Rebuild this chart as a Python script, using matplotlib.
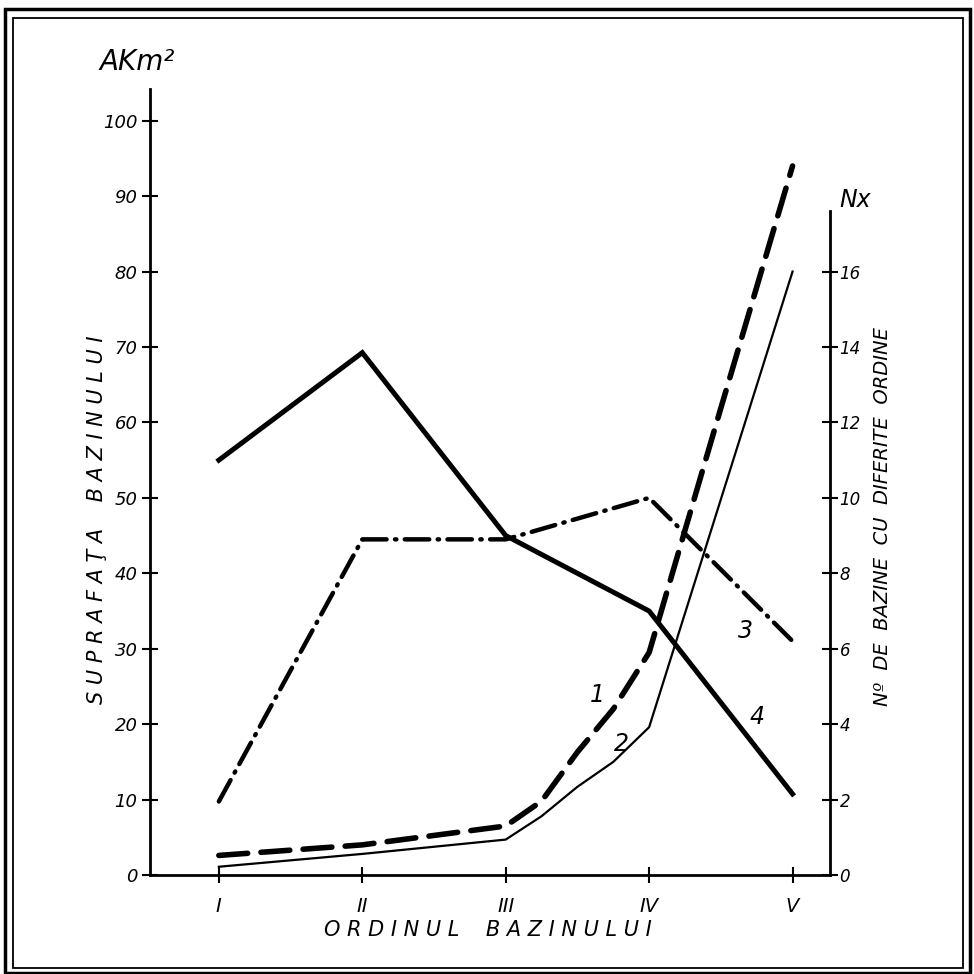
import matplotlib
matplotlib.use("Agg")
import matplotlib.pyplot as plt
from matplotlib.patches import Rectangle

# ordinul bazinului (I..V)
ordin = [1, 2, 3, 4, 5]
ordin_labels = ["I", "II", "III", "IV", "V"]

# curba 1 (A km2, linie intrerupta) - valori citite si intre ordine
x_curba1 = [1, 2, 3, 3.25, 3.5, 3.75, 4, 4.5, 5]
a_curba1 = [2.6, 4.0, 6.5, 9.8, 16.3, 22.0, 29.5, 61.9, 94.0]

# curba 2 (A km2, linie subtire)
x_curba2 = [1, 2, 3, 3.25, 3.5, 3.75, 4, 5]
a_curba2 = [1.1, 2.8, 4.7, 7.8, 11.7, 15.0, 19.6, 80.0]

# curba 3 (Nx, linie-punct) si curba 4 (Nx, linie groasa)
nx_curba3 = [1.95, 8.9, 8.9, 10.0, 6.2]
nx_curba4 = [11.0, 13.85, 9.0, 7.0, 2.15]

y_ticks = list(range(0, 101, 10))
nx_ticks = [0, 2, 4, 6, 8, 10, 12, 14, 16]

plt.rcParams["font.family"] = ["DejaVu Sans"]
plt.rcParams["font.style"] = "italic"

fig = plt.figure(figsize=(9.74, 9.74), dpi=100)
ax = fig.add_axes([0.154, 0.1016, 0.698, 0.807])
ax2 = ax.twinx()

ax.set_xlim(0.52, 5.26)
ax.set_ylim(0, 104.2)
ax2.set_ylim(0, 104.2 / 5)

ax.plot(x_curba1, a_curba1, color="black", lw=4, ls=(0, (5.2, 2.4)),
        dash_capstyle="round")
ax.plot(x_curba2, a_curba2, color="black", lw=1.6)
ax2.plot(ordin, nx_curba3, color="black", lw=3.2,
         ls=(0, (5.5, 1.9, 0.3, 1.9)), dash_capstyle="round")
ax2.plot(ordin, nx_curba4, color="black", lw=3.6, solid_joinstyle="miter")

# axe
for a in (ax, ax2):
    a.spines["top"].set_visible(False)
ax.spines["right"].set_visible(False)
ax2.spines["left"].set_visible(False)
ax2.spines["bottom"].set_visible(False)
ax.spines["left"].set_linewidth(2)
ax.spines["bottom"].set_linewidth(2)
ax2.spines["right"].set_linewidth(2)
ax2.spines["right"].set_bounds(0, 17.6)

ax.set_xticks(ordin)
ax.set_xticklabels(ordin_labels)
ax.set_yticks(y_ticks)
ax2.set_yticks(nx_ticks)
ax.tick_params(axis="x", direction="inout", length=12, width=1.5,
               labelsize=14, pad=10)
ax.tick_params(axis="y", direction="inout", length=12, width=1.5,
               labelsize=13, pad=3)
ax2.tick_params(axis="y", direction="inout", length=12, width=1.5,
                labelsize=12, pad=1)

# numerotarea curbelor
ax.text(3.64, 23.9, "1", fontsize=17, ha="center", va="center")
ax.text(3.81, 17.4, "2", fontsize=17, ha="center", va="center")
ax.text(4.67, 32.4, "3", fontsize=17, ha="center", va="center")
ax.text(4.75, 20.9, "4", fontsize=17, ha="center", va="center")

# titluri axe
fig.text(0.141, 0.936, "AKm²", fontsize=20, ha="center", va="center")
fig.text(0.878, 0.795, "Nx", fontsize=17, ha="center", va="center")
fig.text(0.100, 0.466, "S U P R A F A Ţ A    B A Z I N U L U I",
         fontsize=15, rotation=90, ha="center", va="center")
fig.text(0.906, 0.470, "Nº  DE  BAZINE  CU  DIFERITE  ORDINE",
         fontsize=14, rotation=90, ha="center", va="center")
fig.text(0.501, 0.045, "O R D I N U L    B A Z I N U L U I",
         fontsize=15, ha="center", va="center")

# chenar dublu
fig.add_artist(Rectangle((0.0133, 0.0062), 0.975, 0.975,
                         transform=fig.transFigure, fill=False, lw=1.3,
                         color="black"))
fig.add_artist(Rectangle((0.0051, 0.0015), 0.9908, 0.9897,
                         transform=fig.transFigure, fill=False, lw=2.5,
                         color="black"))

fig.savefig("out.png", dpi=100, facecolor="white")
